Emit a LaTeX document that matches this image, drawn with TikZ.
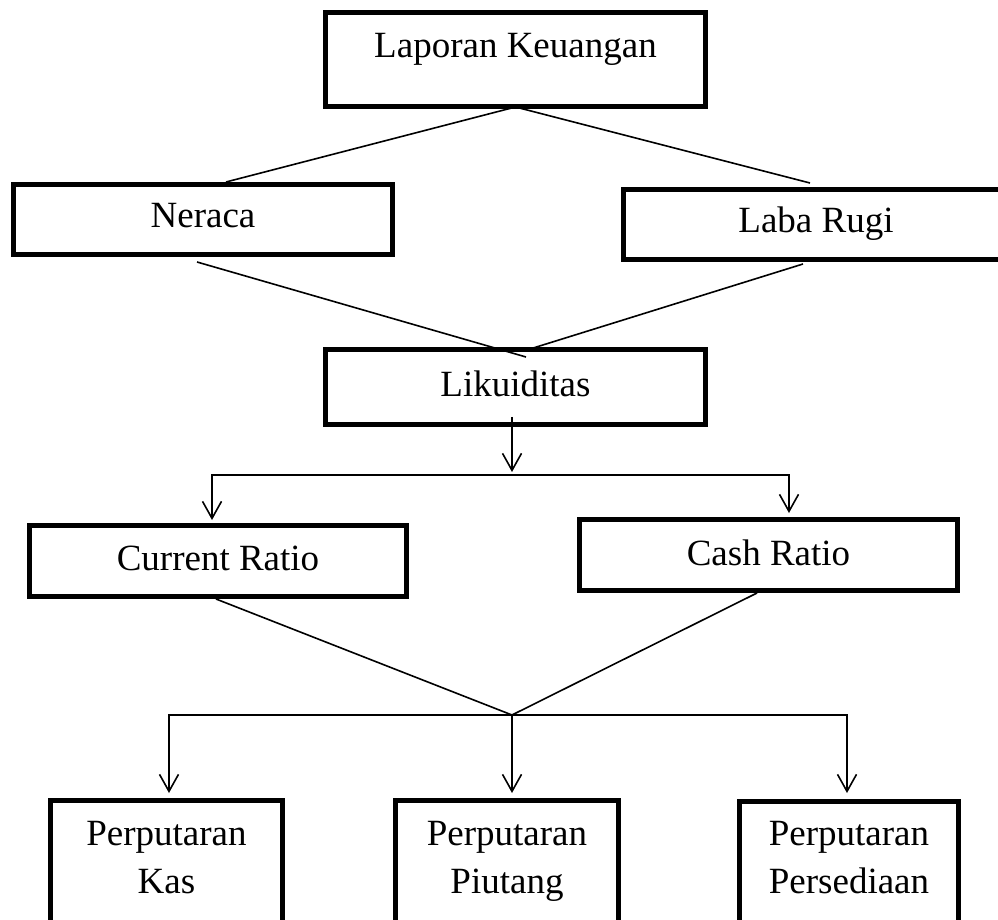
\documentclass[tikz,border=0pt]{standalone}
\usepackage{fontspec}
\setmainfont{Liberation Serif}
\usetikzlibrary{arrows.meta}
\tikzstyle{block} = [draw, line width=2.5pt, inner sep=0pt, outer sep=0pt, anchor=base, font=\fontsize{18.5}{24}\selectfont]
\tikzstyle{link} = [line width=0.8pt]

\begin{document}
\begin{tikzpicture}[x=0.5pt, y=-0.5pt, >={Straight Barb[length=8.5pt, width=9.5pt]}]
\useasboundingbox (0,0) rectangle (998,920);
   \node (Laporan) at (515.5, 58) [block, minimum width=190.25pt, text height=22.75pt, text depth=24.5pt] {Laporan Keuangan};
   \node (Neraca) at (203, 228) [block, minimum width=189.5pt, text height=21.75pt, text depth=13.25pt] {Neraca};
   \node (LabaRugi) at (816, 233) [block, minimum width=193pt, text height=21.75pt, text depth=13.25pt] {Laba Rugi};
   \node (Likuiditas) at (515.5, 396) [block, minimum width=190.25pt, text height=23pt, text depth=14.25pt] {Likuiditas};

   \node (CurrentRatio) at (218, 570) [block, minimum width=188.5pt, text height=22.25pt, text depth=13.25pt] {Current Ratio};
   \node (CashRatio) at (768.5, 565) [block, minimum width=189pt, text height=22.75pt, text depth=12.75pt] {Cash Ratio};

   \node (PerputaranKas) at (166.5, 845) [block, minimum width=116pt, text height=22.25pt, text depth=60pt] {\begin{tabular}[t]{@{}c@{}}Perputaran\\Kas\end{tabular}};
   \node (PerputaranPiutang) at (507, 845) [block, minimum width=111.5pt, text height=22.25pt, text depth=60pt] {\begin{tabular}[t]{@{}c@{}}Perputaran\\Piutang\end{tabular}};
   \node (PerputaranPersediaan) at (849, 845) [block, minimum width=109.5pt, text height=21.75pt, text depth=60pt] {\begin{tabular}[t]{@{}c@{}}Perputaran\\Persediaan\end{tabular}};

   % laporan -> neraca / laba rugi -> likuiditas
   \draw[link] (Laporan.south) -- ([xshift=11.5pt, yshift=1.25pt]Neraca.north);
   \draw[link] (Laporan.south) -- ([xshift=-3pt, yshift=3.25pt]LabaRugi.north);
   \draw[link] ([xshift=-3pt, yshift=-3.75pt]Neraca.south) -- ([xshift=5.25pt, yshift=-3.5pt]Likuiditas.north);
   \draw[link] ([xshift=-6.5pt, yshift=-2.25pt]LabaRugi.south) -- ([xshift=7.25pt, yshift=0.5pt]Likuiditas.north);

   \coordinate (SplitTop) at (512, 475);
   \draw[link, ->] ([xshift=-1.75pt, yshift=3.75pt]Likuiditas.south) -- ([yshift=1.5pt]SplitTop);
   \draw[link, ->] (SplitTop) -| ([xshift=-3pt, yshift=2.75pt]CurrentRatio.north);
   \draw[link, ->] (SplitTop) -| ([xshift=10.25pt, yshift=3.25pt]CashRatio.north);

   \coordinate (SplitBottom) at (512, 715);
   \draw[link] ([xshift=-1pt, yshift=-1.25pt]CurrentRatio.south) -- (SplitBottom);
   \draw[link] ([xshift=-5.75pt, yshift=-1.25pt]CashRatio.south) -- (SplitBottom);
   \draw[link, ->] (SplitBottom) -| ([xshift=1.25pt, yshift=3.75pt]PerputaranKas.north);
   \draw[link, ->] (SplitBottom) -- ([yshift=3.75pt]PerputaranPiutang.north -| SplitBottom);
   \draw[link, ->] (SplitBottom) -| ([xshift=-1pt, yshift=4.25pt]PerputaranPersediaan.north);

\end{tikzpicture}
\end{document}
